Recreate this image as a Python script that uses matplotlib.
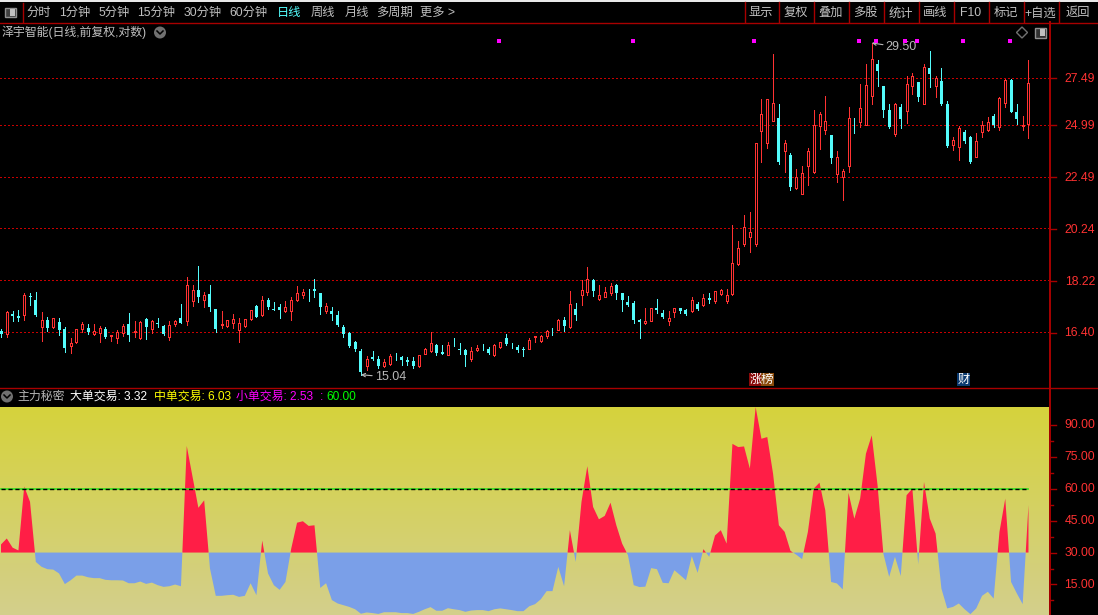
import numpy as np
import matplotlib
matplotlib.use('Agg')
import matplotlib.pyplot as plt
from matplotlib.patches import Rectangle, Circle, Polygon

W, H = 1098, 615
FONT = ['Liberation Sans', 'Noto Sans CJK SC', 'DejaVu Sans']
plt.rcParams['font.family'] = FONT

# daily candles
opens = [16.42,16.35,17.03,16.93,16.98,17.66,17.50,16.56,16.80,16.56,16.75,16.51,15.94,16.06,16.51,16.55,16.35,16.37,16.50,16.28,
16.22,16.38,16.67,16.41,16.20,16.85,16.49,16.72,16.60,16.24,16.66,16.89,16.76,17.46,17.88,17.52,17.72,17.18,16.64,16.62,
16.69,16.46,16.59,16.85,17.30,16.98,17.51,17.18,17.25,17.13,17.12,17.50,17.67,17.83,17.91,17.75,17.13,17.13,16.99,16.58,
16.38,16.06,15.79,15.32,15.60,15.54,15.30,15.36,15.67,15.58,15.50,15.47,15.30,15.70,15.77,15.99,15.75,15.67,15.98,15.84,
15.82,15.54,15.80,15.92,15.86,15.65,15.90,16.21,15.99,15.92,15.84,15.86,16.24,16.09,16.26,16.47,16.48,16.82,16.58,17.19,
17.69,17.80,18.24,17.54,17.62,17.76,18.06,17.76,17.44,17.41,16.80,16.69,16.78,17.23,17.06,16.79,17.10,17.22,17.16,17.13,
17.37,17.32,17.58,17.48,17.72,17.48,17.72,18.85,19.62,19.90,19.62,24.67,24.08,25.18,25.35,23.70,23.49,21.97,21.72,22.99,
22.69,24.92,24.74,24.46,22.62,22.49,22.97,25.03,25.12,24.99,26.51,28.24,27.01,25.73,24.51,25.88,25.70,27.05,27.23,26.06,
28.02,27.03,27.29,26.04,23.97,23.89,24.60,24.36,23.41,24.62,24.70,25.42,24.87,26.11,27.34,25.63,24.94,25.03]
closes = [16.33,17.09,16.95,16.88,17.68,17.60,16.97,16.80,16.55,16.88,16.48,15.87,16.05,16.50,16.67,16.41,16.43,16.55,16.24,16.30,
16.41,16.61,16.31,16.42,16.74,16.56,16.78,16.67,16.34,16.63,16.78,16.72,18.06,17.88,17.60,17.69,17.27,16.50,16.68,16.80,
16.84,16.70,16.84,17.14,16.92,17.50,17.27,17.17,17.14,17.25,17.50,17.75,17.79,17.82,17.82,17.24,17.30,17.03,16.64,16.34,
15.95,15.84,15.11,15.54,15.53,15.31,15.43,15.63,15.65,15.49,15.44,15.31,15.65,15.84,16.04,15.72,15.70,15.99,15.97,15.83,
15.66,15.79,15.87,15.90,15.72,15.99,16.07,16.00,15.96,15.81,15.83,16.13,16.26,16.28,16.44,16.46,16.82,16.62,17.36,16.99,
17.88,18.27,17.84,17.68,17.79,18.01,17.74,17.50,17.32,16.82,16.75,16.78,17.22,17.16,16.92,16.89,17.22,17.13,17.02,17.50,
17.18,17.58,17.51,17.82,17.88,17.69,18.88,19.47,20.32,20.08,24.10,25.56,26.35,26.13,23.17,24.10,22.01,22.48,22.67,23.67,
24.99,25.56,25.19,23.35,23.38,22.76,25.35,25.01,25.87,27.10,28.55,27.84,25.73,24.89,26.08,25.26,27.16,27.61,26.42,28.12,
27.69,27.49,26.04,23.92,24.21,24.84,24.16,23.16,24.19,24.99,25.14,24.99,26.40,27.34,25.63,25.26,24.98,27.21]
highs = [16.50,17.13,17.13,17.16,17.75,17.75,17.80,17.09,16.92,16.89,16.89,16.58,16.20,16.50,16.73,16.67,16.67,16.59,16.58,16.31,
16.48,16.67,17.06,16.76,16.78,16.88,16.80,16.88,16.64,16.78,16.82,17.36,18.35,18.06,18.75,17.80,18.06,17.18,17.13,16.82,
17.01,16.86,16.84,17.16,17.34,17.65,17.56,17.43,17.36,17.48,17.60,18.01,17.91,17.91,18.27,17.75,17.39,17.24,17.13,16.64,
16.41,16.11,15.84,15.63,15.79,15.62,15.53,15.68,15.72,15.63,15.59,15.59,15.66,15.89,16.41,16.02,15.96,16.08,16.21,16.05,
15.84,15.92,15.98,16.02,15.92,16.01,16.08,16.34,16.05,15.99,15.92,16.21,16.28,16.31,16.48,16.55,16.84,16.92,17.84,17.41,
18.24,18.71,18.27,18.06,17.98,18.13,18.09,17.76,17.66,17.46,16.84,17.23,17.23,17.55,17.16,17.13,17.23,17.23,17.19,17.62,
17.44,17.72,17.76,17.84,17.91,17.91,20.40,19.73,20.79,20.91,24.10,26.35,26.35,28.87,26.04,24.21,23.57,22.86,22.97,23.81,
25.73,25.66,26.48,24.46,23.68,22.86,25.88,25.35,27.12,28.24,29.50,28.48,27.01,26.04,26.13,26.04,27.57,27.74,27.23,28.28,
29.00,27.57,28.02,26.21,24.36,24.90,24.70,24.41,24.56,25.16,25.37,25.52,26.42,27.40,27.40,26.04,25.42,28.48]
lows = [16.24,16.24,16.78,16.78,16.82,17.34,16.96,16.11,16.44,16.54,16.31,15.76,15.72,16.05,16.39,16.34,16.29,16.08,16.20,16.11,
16.03,16.28,16.11,16.24,16.16,16.16,16.37,16.58,16.29,16.15,16.62,16.70,16.64,17.31,17.44,17.26,17.13,16.41,16.55,16.58,
16.55,16.08,16.58,16.82,16.90,16.96,17.18,17.16,16.89,17.09,16.82,17.46,17.56,17.48,17.62,17.03,17.05,16.80,16.62,16.24,
15.92,15.79,15.04,15.20,15.50,15.25,15.29,15.35,15.50,15.35,15.35,15.25,15.29,15.69,15.75,15.66,15.69,15.66,15.95,15.69,
15.32,15.47,15.79,15.81,15.69,15.63,15.89,15.99,15.89,15.76,15.63,15.84,16.08,16.08,16.21,16.31,16.47,16.44,16.55,16.82,
17.34,17.69,17.66,17.51,17.60,17.69,17.55,17.13,17.30,16.72,16.21,16.68,16.77,17.06,16.89,16.64,16.92,17.06,16.99,17.09,
17.16,17.29,17.41,17.41,17.69,17.41,17.69,18.80,19.53,19.29,19.53,23.17,23.84,25.16,23.06,22.69,21.88,21.92,21.70,22.10,
22.65,23.78,24.51,23.11,22.24,21.44,22.69,24.56,24.85,24.96,26.04,27.01,25.37,24.80,24.41,24.80,25.05,26.58,26.21,26.04,
26.96,26.42,26.03,23.87,23.73,23.25,24.07,23.11,23.40,24.36,24.67,24.85,24.70,25.88,25.62,25.01,24.70,24.30]

# lower panel indicator, one value per candle
main_force = [33.8,36.6,32.3,31.0,61.0,53.8,25.6,23.3,22.2,22.0,20.2,15.2,17.0,19.2,19.2,18.4,18.0,18.0,17.2,17.0,
17.0,16.9,15.6,15.6,16.4,15.3,15.9,14.7,13.9,14.2,15.0,14.2,80.0,65.5,51.0,54.5,22.5,9.7,9.7,10.0,
10.2,9.2,9.7,15.6,10.0,35.6,20.2,14.7,12.5,16.2,31.9,44.0,44.7,42.5,42.8,13.4,15.6,7.7,6.1,5.3,
4.5,3.4,1.3,1.9,1.6,1.2,2.0,2.0,2.0,1.6,1.6,1.2,2.2,3.4,4.4,2.7,2.7,3.9,3.4,3.0,
2.2,2.8,3.0,3.0,2.5,3.4,3.8,3.4,3.0,2.5,2.5,4.8,5.8,8.1,11.9,11.9,23.3,14.2,40.5,25.6,
53.8,70.5,51.4,45.6,47.2,53.4,42.8,34.2,28.8,14.7,13.8,14.0,22.7,22.2,15.8,15.6,21.7,19.4,17.0,28.3,
20.5,31.6,28.0,38.0,40.5,34.2,81.0,79.5,79.8,69.4,98.3,83.4,84.2,67.0,42.8,39.7,30.8,29.0,26.9,39.7,
60.0,62.8,49.8,16.2,15.5,12.7,58.0,45.9,55.3,76.4,85.0,61.6,29.5,18.6,28.0,19.0,56.9,60.0,24.5,63.1,
45.9,38.9,13.1,3.8,4.5,6.1,3.4,1.1,3.8,9.7,11.6,8.4,39.7,55.3,16.2,10.8,5.8,52.2]

price_ticks = [16.40, 18.22, 20.24, 22.49, 24.99, 27.49]
ind_ticks = [15, 30, 45, 60, 75, 90]
signal_days = [86, 109, 130, 148, 151, 156, 158, 166, 174]
signal_level = 29.63
tabs = ['分时', '1分钟', '5分钟', '15分钟', '30分钟', '60分钟', '日线', '周线', '月线', '多周期', '更多 >']
tab_x = [27, 60, 99, 138, 184, 230, 277, 311, 345, 377, 421]
buttons = ['显示', '复权', '叠加', '多股', '统计', '画线', 'F10', '标记', '+自选', '返回']
button_edges = [744, 778, 813, 848, 883, 918, 953, 988, 1023, 1058, 1098]

RED = '#ff3232'
CYAN = '#54fcfc'
DARKRED = '#a80000'
GREY = '#b8b8b8'

fig = plt.figure(figsize=(W / 100, H / 100), dpi=100, facecolor='black')


def px_axes(x0, y0, x1, y1):
    return fig.add_axes([x0 / W, 1 - y1 / H, (x1 - x0) / W, (y1 - y0) / H])


# overlay in pixel coordinates for the window furniture
chrome = px_axes(0, 0, W, H)
chrome.set_xlim(0, W)
chrome.set_ylim(H, 0)
chrome.axis('off')
chrome.set_zorder(5)
chrome.patch.set_alpha(0)

xs = np.arange(len(opens))
STEP = 5.805
xlim = (-1 / STEP, 1048 / STEP)

# price panel
ax = px_axes(0, 23, 1049, 387)
ax.set_facecolor('black')
ax.set_yscale('log')
ax.set_xlim(xlim)
ax.set_ylim(14.67, 30.72)
ax.axis('off')
for p in price_ticks:
    ax.axhline(p, color='#c80000', lw=0.72, dashes=(1.5, 2.5), antialiased=False, zorder=1)

opens_a, closes_a = np.array(opens), np.array(closes)
highs_a, lows_a = np.array(highs), np.array(lows)
up = closes_a >= opens_a
top = np.maximum(opens_a, closes_a)
bot = np.minimum(opens_a, closes_a)
ax.vlines(xs[up], lows_a[up], highs_a[up], color=RED, lw=0.72, antialiased=False, zorder=2)
ax.vlines(xs[~up], lows_a[~up], highs_a[~up], color=CYAN, lw=0.72, antialiased=False, zorder=2)
ax.bar(xs[up], (top - bot)[up], bottom=bot[up], width=2 / STEP, facecolor='black', edgecolor=RED, lw=0.72, antialiased=False, zorder=3)
ax.bar(xs[~up], (top - bot)[~up], bottom=bot[~up], width=3 / STEP, facecolor=CYAN, edgecolor='none', lw=0, antialiased=False, zorder=3)
ax.scatter(np.array(signal_days) - 0.2, [signal_level] * len(signal_days), marker='s', s=6.5, color='#ff00ff', lw=0, antialiased=False, zorder=4)

# high / low callouts
for day, val, txt, dy in [(150, 29.50, '29.50', -4.5), (62, 15.04, '15.04', -2.5)]:
    ax.annotate(txt, xy=(day, val), xytext=(14, dy), textcoords='offset pixels', color=GREY, fontsize=9,
                va='center', ha='left', arrowprops=dict(arrowstyle='->', color=GREY, lw=0.8, shrinkA=0, shrinkB=0, mutation_scale=6))

# indicator panel
ax2 = px_axes(0, 407, 1049, 615)
ax2.set_xlim(xlim)
ax2.set_ylim(0.7, 98.3)
ax2.axis('off')
grad = np.zeros((256, 1, 3))
grad[:, 0, 0] = np.linspace(214, 211, 256) / 255
grad[:, 0, 1] = np.linspace(211, 207, 256) / 255
grad[:, 0, 2] = np.linspace(60, 140, 256) / 255
ax2.imshow(grad, extent=(xlim[0], xlim[1], 0.7, 98.3), aspect='auto', origin='upper', zorder=0)
vals = np.array(main_force)
ax2.fill_between(xs, vals, 30, where=vals >= 30, interpolate=True, color='#ff1e46', lw=0, zorder=2)
ax2.fill_between(xs, vals, 30, where=vals <= 30, interpolate=True, color='#7a9fe8', lw=0, zorder=2)
ax2.plot([0, xs[-1]], [60, 60], color='#30e020', lw=1.2, zorder=3)
ax2.plot([0, xs[-1]], [60, 60], color='black', lw=1, dashes=(3, 2), zorder=4)

# frame lines
chrome.add_patch(Rectangle((0, 0), W, 2, color='#e8e8e8', lw=0))
chrome.plot([0, W], [22.5, 22.5], color=DARKRED, lw=1)
chrome.plot([0, W], [387.5, 387.5], color=DARKRED, lw=1)
chrome.plot([1049.5, 1049.5], [22, H], color=DARKRED, lw=1.4)
chrome.plot([22.5, 22.5], [3, 22], color=DARKRED, lw=1)
for e in button_edges[:-1]:
    chrome.plot([e + .5, e + .5], [2, 22], color=DARKRED, lw=1)

# toolbar
for t, x in zip(tabs, tab_x):
    chrome.text(x - 0.5, 13.3, t, color='#55ffff' if t == '日线' else '#c0c0c0', fontsize=8.8, va='center', ha='left')
for i, t in enumerate(buttons):
    chrome.text((button_edges[i] + button_edges[i + 1]) / 2, 13.3, t, color='#c0c0c0', fontsize=8.8, va='center', ha='center')
chrome.add_patch(Rectangle((4.5, 8), 11, 9, fc='#404040', ec='#909090', lw=1))
chrome.add_patch(Rectangle((10, 9), 5, 7, fc='#c0c0c0', ec='none'))
chrome.text(2, 32.5, '泽宇智能(日线,前复权,对数)', color='#c0c0c0', fontsize=8.6, va='center', ha='left')

# small round arrows
for cx, cy in [(160, 32.5), (7, 396.5)]:
    chrome.add_patch(Circle((cx, cy), 6, fc='#707070', ec='none'))
    chrome.plot([cx - 3, cx, cx + 3], [cy - 1.5, cy + 1.5, cy - 1.5], color='black', lw=1.1)
chrome.add_patch(Polygon([(1022, 27), (1027.5, 32.5), (1022, 38), (1016.5, 32.5)], fc='none', ec='#707070', lw=1))
chrome.add_patch(Rectangle((1034.5, 27.5), 11, 10, fc='#303030', ec='#909090', lw=1))
chrome.add_patch(Rectangle((1040, 29), 5, 7, fc='#c0c0c0', ec='none'))

# right axis, price
for p in price_ticks:
    yy = 78 + (np.log(27.49) - np.log(p)) * 493
    chrome.plot([1050, 1056], [yy, yy], color=DARKRED, lw=1)
    chrome.text(1095, yy + 0.8, '%.2f' % p, color=RED, fontsize=8.8, va='center', ha='right')

# right axis, indicator
for v in ind_ticks:
    yy = 552.5 + (30 - v) * 2.133
    chrome.plot([1050, 1056], [yy, yy], color=DARKRED, lw=1)
    chrome.text(1095, yy + 0.8, '%.2f' % v, color=RED, fontsize=8.8, va='center', ha='right')
    chrome.plot([1050, 1053], [yy + 16, yy + 16], color=DARKRED, lw=1)

# legend row of the lower panel
for txt, x, col in [('主力秘密', 17, '#b4b4b4'), ('大单交易: 3.32', 70, 'white'), ('中单交易: 6.03', 154, '#ffff00'),
                    ('小单交易: 2.53', 236, '#ff00ff'), (':', 320, '#ff00ff'), ('60.00', 326, '#00ff00')]:
    chrome.text(x, 396.5, txt, color=col, fontsize=8.6, va='center', ha='left')

# event badges
chrome.add_patch(Rectangle((749, 373), 12, 13, fc='#8a0a0a', ec='none'))
chrome.add_patch(Rectangle((761, 373), 13, 13, fc='#8a4a0a', ec='none'))
chrome.add_patch(Rectangle((957, 373), 13, 13, fc='#0a3a70', ec='none'))
chrome.text(761.5, 380, '涨榜', color='white', fontsize=8.8, va='center', ha='center')
chrome.text(963.5, 380, '财', color='white', fontsize=8.8, va='center', ha='center')

fig.savefig('out.png', dpi=100, facecolor='black')
